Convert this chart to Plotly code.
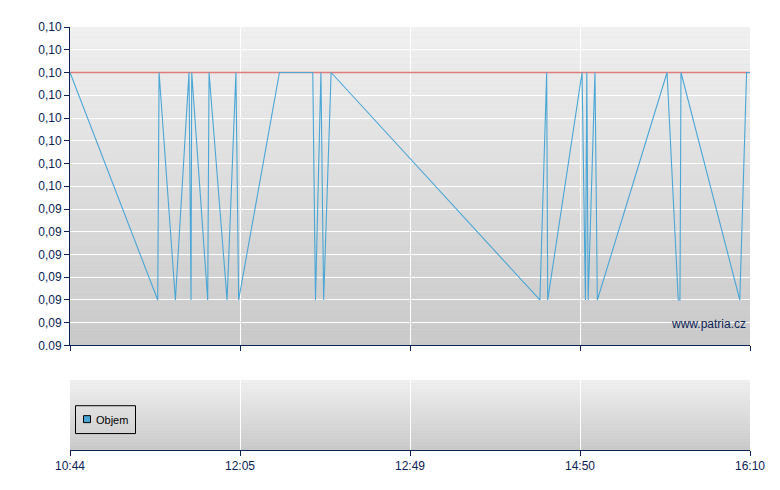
import plotly.graph_objects as go

# ---- data ----
# x position of each trade as % of the session axis (0 = 10:44, 100 = 16:10)
trade_pos = [0, 12.9, 13.1, 15.5, 17.5, 17.8, 17.9, 20.25, 20.45, 23.1, 24.4, 24.8,
             30.8, 35.7, 36.1, 36.9, 37.3, 38.4, 69.1, 70.1, 70.25, 75.3, 75.8, 76.0,
             76.2, 77.2, 77.55, 87.8, 89.45, 89.7, 89.85, 98.5, 99.5, 100]
trade_price = [0.0990, 0.0920, 0.0990, 0.0920, 0.0990, 0.0920, 0.0990, 0.0920, 0.0990,
               0.0920, 0.0990, 0.0920, 0.0990, 0.0990, 0.0920, 0.0990, 0.0920, 0.0990,
               0.0920, 0.0990, 0.0920, 0.0990, 0.0920, 0.0990, 0.0920, 0.0990, 0.0920,
               0.0990, 0.0920, 0.0920, 0.0990, 0.0920, 0.0990, 0.0990]
ref_price = 0.0990
volume_pos = [50]
volume = [0]

x_tick_pos = [0, 25, 50, 75, 100]
x_tick_labels = ["10:44", "12:05", "12:49", "14:50", "16:10"]

y_tick_vals = [0.0906 + 0.0007 * k for k in range(15)]
y_tick_labels = ["0.09", "0,09", "0,09", "0,09", "0,09", "0,09", "0,09",
                 "0,10", "0,10", "0,10", "0,10", "0,10", "0,10", "0,10", "0,10"]

NAVY = "#0B2254"
LINE = "#4AA6D6"
FAM = "Liberation Sans, Arial, sans-serif"
FONT = dict(family=FAM, size=12, color=NAVY)

fig = go.Figure()

fig.add_trace(go.Scatter(x=[0, 100], y=[ref_price, ref_price], mode="lines",
                         line=dict(color="#E07C7C", width=1.5), showlegend=False,
                         hoverinfo="skip", xaxis="x", yaxis="y"))
fig.add_trace(go.Scatter(x=trade_pos, y=trade_price, mode="lines",
                         line=dict(color=LINE, width=1.1), showlegend=False,
                         xaxis="x", yaxis="y"))
fig.add_trace(go.Bar(x=volume_pos, y=volume, name="Objem",
                     marker=dict(color=LINE, line=dict(width=0)),
                     xaxis="x2", yaxis="y2", showlegend=False))

# gradient background bands
def bands(xref, yref, n, top, bottom):
    out = []
    for i in range(n):
        t = i / (n - 1)
        c = int(round(top + (bottom - top) * t))
        out.append(dict(type="rect", xref=xref, yref=yref, x0=0, x1=1,
                        y0=1 - (i + 1) / n, y1=1 - i / n, layer="below",
                        fillcolor=f"rgb({c},{c},{c})", line=dict(width=0)))
    return out
shapes = bands("x domain", "y domain", 60, 240, 201) + bands("x2 domain", "y2 domain", 24, 239, 201)

# page body has an 8px margin -> compensate so plot sits at 70..750 x 25..450
PW, PH = 680, 425
px = lambda v: (v - 70) / PW
py = lambda v: (450 - v) / PH
main_bottom = py(345)
vol_top = py(380)

# legend box drawn manually (compact, like the original)
shapes += [
    dict(type="rect", xref="paper", yref="paper", x0=px(75.5), x1=px(135.5),
         y0=py(433.5), y1=py(405.5), line=dict(color="#000000", width=1),
         fillcolor="rgba(0,0,0,0)", layer="above"),
    dict(type="rect", xref="paper", yref="paper", x0=px(83.5), x1=px(90.5),
         y0=py(422.5), y1=py(415.5), line=dict(color="#000000", width=1),
         fillcolor=LINE, layer="above"),
]

fig.update_layout(
    width=780, height=490,
    margin=dict(l=62, r=38, t=17, b=48),
    paper_bgcolor="white", plot_bgcolor="#DDDDDD",
    font=FONT, shapes=shapes, bargap=0, showlegend=False,
    xaxis=dict(domain=[0, 1], anchor="y", range=[0, 100], tickvals=x_tick_pos,
               ticktext=[""] * 5, showgrid=True, gridcolor="white", gridwidth=1,
               showline=True, linecolor=NAVY, linewidth=1, ticks="outside",
               ticklen=5, tickcolor=NAVY, zeroline=False),
    yaxis=dict(domain=[main_bottom, 1], anchor="x", range=[y_tick_vals[0], y_tick_vals[-1]],
               tickvals=y_tick_vals, ticktext=y_tick_labels, showgrid=True,
               gridcolor="white", gridwidth=1, showline=True, linecolor=NAVY,
               linewidth=1, ticks="outside", ticklen=5, tickcolor=NAVY,
               zeroline=False, tickfont=FONT),
    xaxis2=dict(domain=[0, 1], anchor="y2", range=[0, 100], tickvals=x_tick_pos,
                ticktext=x_tick_labels, showgrid=True, gridcolor="white", gridwidth=1,
                showline=True, linecolor=NAVY, linewidth=1, ticks="outside",
                ticklen=5, tickcolor=NAVY, zeroline=False, tickfont=FONT),
    yaxis2=dict(domain=[0, vol_top], anchor="x2", range=[0, 1], showticklabels=False,
                showgrid=False, zeroline=False, showline=False, ticks=""),
    annotations=[
        dict(text="www.patria.cz", xref="paper", yref="paper",
             x=px(748), y=py(323), xanchor="right", yanchor="middle", showarrow=False,
             font=dict(family=FAM, size=12, color=NAVY)),
        dict(text="Objem", xref="paper", yref="paper",
             x=px(94), y=py(420), xanchor="left", yanchor="middle", showarrow=False,
             font=dict(family=FAM, size=11, color="#000000")),
    ],
)

fig.write_html("out.html")
